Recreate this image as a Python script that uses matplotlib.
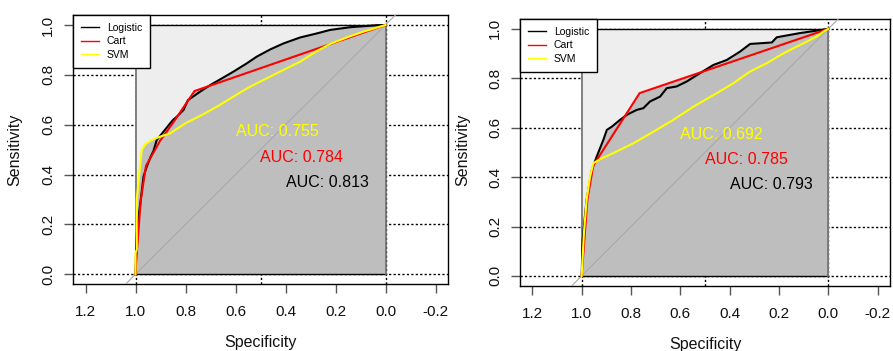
import matplotlib
matplotlib.use('Agg')
import matplotlib.pyplot as plt
from matplotlib.lines import Line2D

plt.rcParams['font.family'] = ['Liberation Sans', 'DejaVu Sans']

# ---------------- data ----------------
series_names = ['Logistic', 'Cart', 'SVM']
series_colors = ['#000000', '#FF0000', '#FFFF00']

x_tick_values = [1.2, 1.0, 0.8, 0.6, 0.4, 0.2, 0.0, -0.2]
x_tick_labels = ['1.2', '1.0', '0.8', '0.6', '0.4', '0.2', '0.0', '-0.2']
y_tick_values = [0.0, 0.2, 0.4, 0.6, 0.8, 1.0]
y_tick_labels = ['0.0', '0.2', '0.4', '0.6', '0.8', '1.0']

# Left panel
left_log_spec = [1.0, 0.997, 0.993, 0.979, 0.968, 0.955, 0.940, 0.928, 0.915, 0.888, 0.861, 0.850,
                 0.835, 0.808, 0.790, 0.781, 0.741, 0.701, 0.661, 0.608, 0.555, 0.515, 0.461,
                 0.408, 0.341, 0.275, 0.222, 0.142, 0.075, 0.035, 0.0]
left_log_sens = [0.0, 0.12, 0.191, 0.298, 0.392, 0.432, 0.470, 0.495, 0.539, 0.572, 0.606, 0.619,
                 0.632, 0.659, 0.699, 0.705, 0.733, 0.759, 0.782, 0.813, 0.846, 0.873, 0.902,
                 0.926, 0.950, 0.966, 0.980, 0.991, 0.996, 0.999, 1.0]

left_cart_spec = [1.0, 0.999, 0.989, 0.979, 0.958, 0.902, 0.842, 0.764, 0.0]
left_cart_sens = [0.0, 0.03, 0.165, 0.298, 0.435, 0.535, 0.619, 0.735, 1.0]

left_svm_spec = [1.0, 1.0, 0.995, 0.995, 0.985, 0.975, 0.962, 0.941, 0.902, 0.862, 0.800, 0.742,
                 0.675, 0.608, 0.541, 0.475, 0.408, 0.341, 0.275, 0.222, 0.141, 0.089, 0.0]
left_svm_sens = [0.0, 0.085, 0.10, 0.30, 0.405, 0.499, 0.520, 0.536, 0.552, 0.565, 0.606, 0.635,
                 0.672, 0.713, 0.753, 0.786, 0.820, 0.853, 0.895, 0.924, 0.955, 0.973, 1.0]

left_auc_labels = ['AUC: 0.813', 'AUC: 0.784', 'AUC: 0.755']

# Right panel
right_log_spec = [1.0, 0.998, 0.996, 0.988, 0.980, 0.959, 0.939, 0.912, 0.898, 0.878, 0.844,
                  0.817, 0.777, 0.750, 0.723, 0.682, 0.655, 0.615, 0.574, 0.520, 0.466, 0.412,
                  0.358, 0.317, 0.229, 0.209, 0.115, 0.074, 0.0]
right_log_sens = [0.0, 0.08, 0.146, 0.23, 0.308, 0.429, 0.483, 0.551, 0.591, 0.604, 0.632,
                  0.652, 0.672, 0.679, 0.706, 0.726, 0.760, 0.767, 0.787, 0.821, 0.854, 0.874,
                  0.908, 0.939, 0.945, 0.966, 0.983, 0.989, 1.0]

right_cart_spec = [1.0, 0.987, 0.977, 0.953, 0.765, 0.0]
right_cart_sens = [0.0, 0.173, 0.308, 0.447, 0.740, 1.0]

right_svm_spec = [1.0, 0.998, 0.991, 0.980, 0.966, 0.953, 0.920, 0.872, 0.790, 0.709, 0.628,
                  0.547, 0.452, 0.385, 0.318, 0.250, 0.182, 0.115, 0.047, 0.020, 0.0]
right_svm_sens = [0.0, 0.04, 0.173, 0.308, 0.402, 0.456, 0.475, 0.497, 0.537, 0.584, 0.632,
                  0.685, 0.740, 0.780, 0.827, 0.861, 0.901, 0.935, 0.969, 0.989, 1.0]

right_auc_labels = ['AUC: 0.793', 'AUC: 0.785', 'AUC: 0.692']

# ---------------- figure ----------------
W, H = 893, 351
fig = plt.figure(figsize=(W / 100, H / 100), dpi=100)

XLIM = (1.25, -0.25)
YLIM = (-0.04, 1.04)


def px_axes(left, top, width, height):
    return fig.add_axes([left / W, (H - top - height) / H, width / W, height / H])


def draw_panel(ax, curves, auc_labels, auc_pos):
    ax.set_xlim(*XLIM)
    ax.set_ylim(*YLIM)
    dot = (0, (1.6, 1.6))
    for yv in y_tick_values:
        ax.axhline(yv, color='black', lw=1, ls=dot, zorder=0.5)
    for xv in [1.0, 0.5, 0.0]:
        ax.axvline(xv, color='black', lw=1, ls=dot, zorder=0.5)
    # max AUC square
    ax.fill_between([1.0, 0.0], [1.0, 1.0], [0.0, 0.0], color='#EEEEEE', lw=0, zorder=1)
    # AUC polygons
    for spec, sens in curves:
        ax.fill_between(spec, sens, 0, color='#BEBEBE', lw=0, zorder=2)
    ax.plot([1.0, 0.0], [1.0, 1.0], color='black', lw=1, zorder=3)
    ax.plot([1.0, 0.0], [0.0, 0.0], color='black', lw=1, zorder=3)
    ax.plot([1.0, 1.0], [0.0, 1.0], color='#6E6E6E', lw=1.2, zorder=3)
    ax.plot([0.0, 0.0], [0.0, 1.0], color='#6E6E6E', lw=1.2, zorder=3)
    # identity line
    ax.axline((1.0, 0.0), (0.0, 1.0), color='#A9A9A9', lw=0.8, zorder=3)
    for i, (spec, sens) in enumerate(curves):
        ax.plot(spec, sens, color=series_colors[i], lw=1.5, zorder=4 + i * 0.1,
                solid_joinstyle='round')
    for lab, (tx, ty), col in zip(auc_labels, auc_pos, series_colors):
        ax.text(tx, ty, lab, color=col, fontsize=11.5, ha='left', va='center', zorder=6)
    ax.set_xticks(x_tick_values, x_tick_labels)
    ax.set_yticks(y_tick_values, y_tick_labels, rotation=90, va='center')
    ax.tick_params(axis='both', direction='out', length=6.5, width=1, color='#555555',
                   labelsize=11, labelcolor='#111111')
    ax.tick_params(axis='x', pad=8.5)
    ax.tick_params(axis='y', pad=6.5)
    for sp in ax.spines.values():
        sp.set_linewidth(1)
        sp.set_color('black')
    handles = [Line2D([], [], color=c, lw=1) for c in series_colors]
    leg = ax.legend(handles, series_names, loc='upper left', bbox_to_anchor=(0, 1),
                    borderaxespad=0, fontsize=7.5, frameon=True, fancybox=False,
                    edgecolor='black', framealpha=1, handlelength=1.75, handletextpad=0.75,
                    labelspacing=0.35, borderpad=0.75)
    leg.get_frame().set_linewidth(1)
    leg.set_zorder(10)


# left panel
axL = px_axes(73.0, 15.0, 375.0, 269.3)
draw_panel(axL,
           [(left_log_spec, left_log_sens), (left_cart_spec, left_cart_sens),
            (left_svm_spec, left_svm_sens)],
           left_auc_labels, [(0.40, 0.369), (0.50, 0.469), (0.60, 0.571)])
fig.text(260.5 / W, 1 - 342.5 / H, 'Specificity', fontsize=11.5, ha='center', va='center',
         color='#111111')
fig.text(15 / W, 1 - 149.5 / H, 'Sensitivity', fontsize=11.5, ha='center', va='center',
         rotation=90, color='#111111')

# right panel
axR = px_axes(520.0, 19.0, 370.0, 266.8)
draw_panel(axR,
           [(right_log_spec, right_log_sens), (right_cart_spec, right_cart_sens),
            (right_svm_spec, right_svm_sens)],
           right_auc_labels, [(0.40, 0.371), (0.50, 0.472), (0.60, 0.571)])
fig.text(705 / W, 1 - 344 / H, 'Specificity', fontsize=11.5, ha='center', va='center',
         color='#111111')
fig.text(463 / W, 1 - 150 / H, 'Sensitivity', fontsize=11.5, ha='center', va='center',
         rotation=90, color='#111111')

fig.savefig('out.png', dpi=100)
